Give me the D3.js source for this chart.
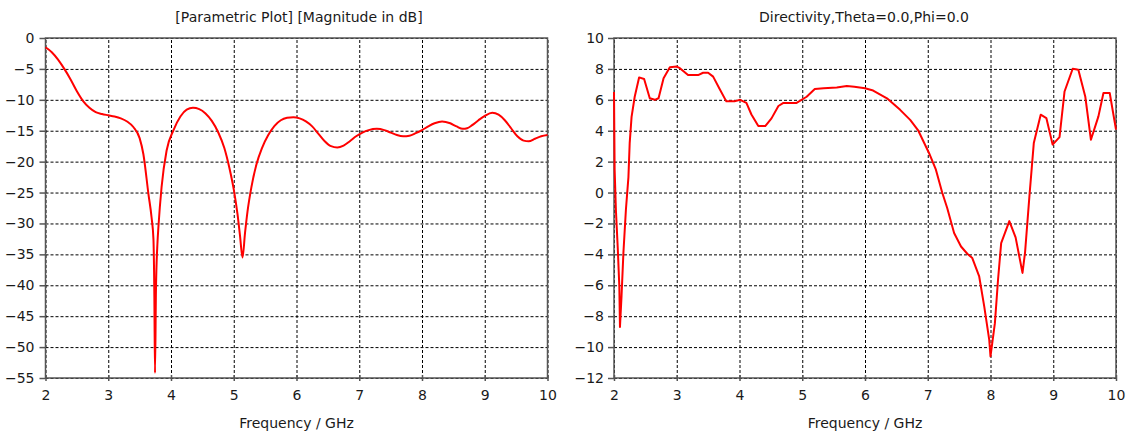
<!DOCTYPE html>
<html>
<head>
<meta charset="utf-8">
<script src="https://cdn.jsdelivr.net/npm/d3@7"></script>
<style>
  body { margin: 0; background: #fff; }
  text { font-family: "DejaVu Sans", sans-serif; fill: #1a1a1a; }
</style>
</head>
<body>
<svg id="chart" width="1129" height="436"></svg>
<script>
// ticks
var freqTicks = [2, 3, 4, 5, 6, 7, 8, 9, 10];
var s11Ticks = [0, -5, -10, -15, -20, -25, -30, -35, -40, -45, -50, -55];
var dirTicks = [10, 8, 6, 4, 2, 0, -2, -4, -6, -8, -10, -12];

// S11 (dB) vs frequency
var s11Freq = [2.00, 2.10, 2.20, 2.30, 2.40, 2.50, 2.60, 2.70, 2.80, 2.90, 3.00, 3.10, 3.20, 3.30, 3.40, 3.50,
  3.56, 3.64, 3.69, 3.72, 3.735, 3.745, 3.76, 3.785, 3.80, 3.85, 3.93, 4.04, 4.15, 4.25, 4.35, 4.45, 4.55,
  4.65, 4.75, 4.85, 4.93, 5.00, 5.06, 5.10, 5.14, 5.18, 5.22, 5.28, 5.36, 5.45, 5.55, 5.65, 5.75, 5.85,
  5.95, 6.05, 6.15, 6.25, 6.35, 6.45, 6.55, 6.65, 6.75, 6.85, 6.95, 7.05, 7.15, 7.28, 7.40, 7.50, 7.60,
  7.70, 7.80, 7.90, 8.00, 8.10, 8.20, 8.32, 8.45, 8.55, 8.65, 8.72, 8.80, 8.90, 9.00, 9.12, 9.22, 9.32,
  9.42, 9.52, 9.62, 9.70, 9.80, 9.90, 10.0];
var s11Mag = [-1.5, -2.3, -3.5, -5.0, -6.7, -8.6, -10.2, -11.3, -12.0, -12.3, -12.5, -12.7, -13.0, -13.5, -14.4, -16.2,
  -18.8, -25.2, -29.0, -32.5, -42.0, -54.2, -41.0, -33.0, -30.5, -24.1, -18.2, -14.9, -12.7, -11.6, -11.3, -11.5, -12.2,
  -13.4, -15.2, -17.8, -21.0, -24.5, -28.5, -32.0, -35.5, -31.5, -28.0, -24.2, -20.5, -17.8, -15.7, -14.2, -13.3, -12.9,
  -12.8, -13.0, -13.5, -14.3, -15.5, -16.7, -17.5, -17.7, -17.4, -16.7, -15.9, -15.3, -14.9, -14.7, -14.9, -15.3, -15.7,
  -15.9, -15.8, -15.4, -14.9, -14.3, -13.8, -13.5, -13.8, -14.3, -14.7, -14.6, -14.1, -13.3, -12.6, -12.1, -12.4, -13.3,
  -14.6, -15.9, -16.6, -16.7, -16.3, -15.9, -15.7];

// Directivity (dBi) vs frequency
var dirFreq = [2.00, 2.01, 2.03, 2.06, 2.085, 2.095, 2.12, 2.15, 2.19, 2.23, 2.25, 2.28, 2.33, 2.40, 2.48, 2.57,
  2.65, 2.71, 2.79, 2.89, 3.00, 3.05, 3.18, 3.34, 3.42, 3.50, 3.58, 3.69, 3.79, 3.92, 4.01, 4.11, 4.19,
  4.30, 4.41, 4.51, 4.62, 4.70, 4.91, 5.07, 5.20, 5.34, 5.55, 5.71, 5.83, 6.00, 6.13, 6.35, 6.56, 6.72,
  6.85, 7.02, 7.13, 7.23, 7.31, 7.42, 7.53, 7.63, 7.71, 7.82, 7.90, 7.98, 8.00, 8.07, 8.12, 8.17, 8.30,
  8.40, 8.51, 8.55, 8.62, 8.69, 8.80, 8.89, 8.99, 9.10, 9.18, 9.31, 9.40, 9.51, 9.60, 9.72, 9.80, 9.90, 10.0];
var dirVal = [6.5, 1.5, -1.1, -3.6, -6.1, -8.7, -6.7, -3.9, -1.1, 1.0, 3.2, 4.9, 6.2, 7.45, 7.35, 6.1,
  6.0, 6.1, 7.4, 8.1, 8.15, 8.05, 7.6, 7.6, 7.75, 7.75, 7.5, 6.65, 5.9, 5.9, 6.0, 5.8, 5.05,
  4.3, 4.3, 4.8, 5.6, 5.8, 5.8, 6.2, 6.7, 6.75, 6.8, 6.9, 6.85, 6.75, 6.6, 6.1, 5.35, 4.7,
  4.0, 2.56, 1.48, 0.0, -1.0, -2.62, -3.49, -3.96, -4.24, -5.43, -7.37, -9.53, -10.6, -8.45, -5.64, -3.27, -1.85,
  -2.9, -5.2, -3.9, -0.25, 3.2, 5.04, 4.82, 3.1, 3.59, 6.54, 8.01, 7.95, 6.22, 3.42, 4.93, 6.44, 6.44, 4.07];

var svg = d3.select("#chart");

function drawPanel(p) {
  var x = d3.scaleLinear().domain([2, 10]).range([p.left, p.right]);
  var y = d3.scaleLinear().domain(p.yDomain).range([p.bottom, p.top]);
  var g = svg.append("g");
  var h = p.bottom - p.top, w = p.right - p.left;

  // grid
  g.append("g").attr("transform", "translate(0," + p.bottom + ")")
    .call(d3.axisBottom(x).tickValues(freqTicks).tickSize(-h).tickFormat(""))
    .call(function(s) { s.select(".domain").remove(); })
    .selectAll("line").attr("stroke", "#000").attr("stroke-dasharray", "3,2");
  g.append("g").attr("transform", "translate(" + p.left + ",0)")
    .call(d3.axisLeft(y).tickValues(p.yTicks).tickSize(-w).tickFormat(""))
    .call(function(s) { s.select(".domain").remove(); })
    .selectAll("line").attr("stroke", "#000").attr("stroke-dasharray", "3,2");

  // axes with labels
  var xa = g.append("g").attr("transform", "translate(0," + p.bottom + ")")
    .call(d3.axisBottom(x).tickValues(freqTicks).tickSize(3).tickPadding(9).tickFormat(d3.format("d")));
  var ya = g.append("g").attr("transform", "translate(" + p.left + ",0)")
    .call(d3.axisLeft(y).tickValues(p.yTicks).tickSize(6).tickPadding(p.pad).tickFormat(d3.format("d")));
  [xa, ya].forEach(function(a) {
    a.select(".domain").remove();
    a.selectAll("line").attr("stroke", "#555").attr("stroke-width", 1.5);
    a.selectAll("text").style("font-size", "14px").attr("fill", "#1a1a1a");
  });
  xa.selectAll("line").attr("y1", -3);

  // frame
  g.append("rect").attr("x", p.left).attr("y", p.top).attr("width", w).attr("height", h)
    .attr("fill", "none").attr("stroke", "#555").attr("stroke-width", 1.5);

  // curve
  var pts = p.xs.map(function(d, i) { return [d, p.ys[i]]; });
  g.append("path").datum(pts)
    .attr("fill", "none").attr("stroke", "#ff0000").attr("stroke-width", 2)
    .attr("stroke-linejoin", "round")
    .attr("d", d3.line().x(function(d) { return x(d[0]); }).y(function(d) { return y(d[1]); }).curve(p.curve));

  g.append("text").attr("x", p.titleX).attr("y", 22).attr("text-anchor", "middle")
    .style("font-size", "14px").text(p.title);
  g.append("text").attr("x", (p.left + p.right) / 2).attr("y", 428).attr("text-anchor", "middle")
    .style("font-size", "14px").text("Frequency / GHz");
}

drawPanel({
  left: 45.5, right: 547.5, top: 38, bottom: 378, pad: 5,
  yDomain: [-55, 0], yTicks: s11Ticks,
  xs: s11Freq, ys: s11Mag, curve: d3.curveMonotoneX,
  title: "[Parametric Plot] [Magnitude in dB]", titleX: 299
});
drawPanel({
  left: 614, right: 1116, top: 38, bottom: 378, pad: 4,
  yDomain: [-12, 10], yTicks: dirTicks,
  xs: dirFreq, ys: dirVal, curve: d3.curveLinear,
  title: "Directivity,Theta=0.0,Phi=0.0", titleX: 864
});
</script>
</body>
</html>
